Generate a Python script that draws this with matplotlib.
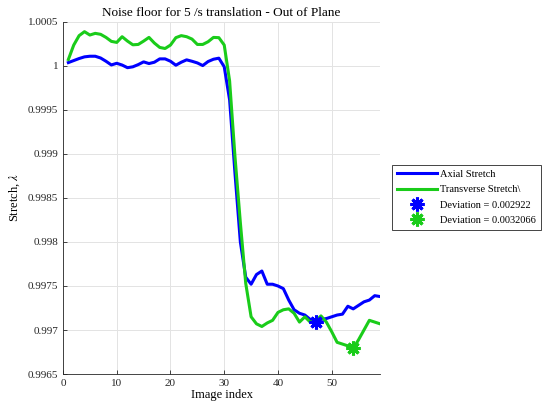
import matplotlib
matplotlib.use("Agg")
import matplotlib.pyplot as plt
from matplotlib.ticker import FuncFormatter, MultipleLocator

plt.rcParams['font.family'] = ['Liberation Serif', 'DejaVu Serif']
plt.rcParams['mathtext.fontset'] = 'stix'

# data (image index 1..59)
idx = list(range(1, 60))
axial = [
    1.000038, 1.000061, 1.000084, 1.000103, 1.000110, 1.000110, 1.000090, 1.000053,
    1.000011, 1.000030, 1.000010, 0.999980, 0.999990, 1.000015, 1.000046, 1.000027,
    1.000042, 1.000080, 1.000080, 1.000053, 1.000008, 1.000042, 1.000069, 1.000053,
    1.000034, 1.000004, 1.000050, 1.000076, 1.000088, 0.999990, 0.999614, 0.998780,
    0.998000, 0.997600, 0.997520, 0.997630, 0.997670, 0.997520, 0.997520, 0.997500,
    0.997470, 0.997340, 0.997230, 0.997190, 0.997170, 0.997120, 0.997090, 0.997120,
    0.997130, 0.997150, 0.997170, 0.997180, 0.997270, 0.997240, 0.997280, 0.997320,
    0.997340, 0.997390, 0.997380,
]
transverse = [
    1.000073, 1.000237, 1.000344, 1.000389, 1.000351, 1.000370, 1.000359, 1.000324,
    1.000279, 1.000267, 1.000332, 1.000282, 1.000240, 1.000244, 1.000282, 1.000324,
    1.000260, 1.000210, 1.000198, 1.000237, 1.000321, 1.000344, 1.000332, 1.000305,
    1.000244, 1.000244, 1.000275, 1.000324, 1.000321, 1.000237, 0.999830, 0.998970,
    0.998220, 0.997530, 0.997150, 0.997070, 0.997040, 0.997080, 0.997110, 0.997200,
    0.997230, 0.997240, 0.997190, 0.997090, 0.997150, 0.997090, 0.997100, 0.997160,
    0.997090, 0.996980, 0.996860, 0.996840, 0.996820, 0.996790, 0.996890, 0.997000,
    0.997110, 0.997090, 0.997070,
]
dev_axial = (47, 0.997090, 'Deviation = 0.002922')
dev_trans = (54, 0.996790, 'Deviation = 0.0032066')

blue = (0, 0, 1)
green = (0.1, 0.8, 0.1)

fig = plt.figure(figsize=(5.43, 4.08), dpi=100)
ax = fig.add_axes([0.116, 0.0833, 0.584, 0.863])

ax.plot(idx, axial, color=blue, lw=2.2, label='Axial Stretch')
ax.plot(idx, transverse, color=green, lw=2.2, label='Transverse Stretch\\')
ax.plot(dev_axial[0], dev_axial[1], ls='none', marker=(8, 2, 0), ms=10,
        mew=2.2, color=blue, label=dev_axial[2])
ax.plot(dev_trans[0], dev_trans[1], ls='none', marker=(8, 2, 0), ms=10,
        mew=2.2, color=green, label=dev_trans[2])

ax.set_xlim(0, 59)
ax.set_ylim(0.9965, 1.0005)
ax.xaxis.set_major_locator(MultipleLocator(10))
ax.yaxis.set_major_locator(MultipleLocator(0.0005))
ax.yaxis.set_major_formatter(FuncFormatter(lambda v, p: f'{v:.4f}'.rstrip('0').rstrip('.')))
ax.tick_params(direction='in', labelsize=8, length=3, width=0.6, colors='#262626')
ax.grid(True, color='#e3e3e3', lw=0.7)
ax.set_axisbelow(True)
for s in ['top', 'right']:
    ax.spines[s].set_visible(False)
for s in ['left', 'bottom']:
    ax.spines[s].set_color('#262626')
    ax.spines[s].set_linewidth(0.6)

ax.set_title('Noise floor for 5 /s translation - Out of Plane', fontsize=9.5,
             pad=4)
ax.set_xlabel('Image index', fontsize=9, labelpad=1)
ax.set_ylabel(r'Stretch, $\lambda$', fontsize=9)
ax.yaxis.set_label_coords(-0.13, 0.5)

leg = ax.legend(loc='upper left', bbox_to_anchor=(1.037, 0.595), fontsize=7.5,
                fancybox=False, framealpha=1, edgecolor='#262626',
                handlelength=3.8, borderpad=0.5, labelspacing=0.58,
                handletextpad=0.3, borderaxespad=0)
leg.get_frame().set_linewidth(0.6)
leg._legend_box.sep = 0
for t in leg.get_texts():
    t.set_x(0)

fig.savefig('out.png', dpi=100)
